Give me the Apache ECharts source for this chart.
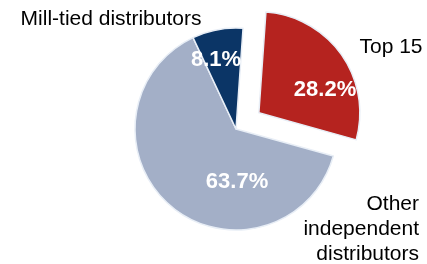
<!DOCTYPE html>
<html>
<head>
    <meta charset="utf-8" />
    <title>Distributor share</title>
    <script src="https://cdn.jsdelivr.net/npm/echarts@6/dist/echarts.min.js"></script>
    <style>
        html, body { margin: 0; padding: 0; background: #fff; }
        #main { width: 427px; height: 264px; }
    </style>
</head>
<body>
    <div id="main"></div>
    <script type="text/javascript">
        // data
        var categories = ['Top 15', 'Other\nindependent\ndistributors', 'Mill-tied distributors'];
        var shares = [28.2, 63.7, 8.1];
        var colors = ['#b5231f', '#a3afc7', '#0b3566'];

        // hand placed label anchors (like the original)
        var pctPos = [[325, 90], [237, 182], [216, 60]];
        var namePos = [[391, 47, 'center'], [419, 229, 'right'], [111, 19, 'center']];

        var center = [236, 129];
        var radius = 101;
        var startAngle = 86;
        var explode = 28;
        var font = '"Liberation Sans", Arial, sans-serif';
        var hidden = 'rgba(0,0,0,0)';
        var myChart = echarts.init(document.getElementById('main'));

        // the first slice is pulled out along its middle angle
        var total = shares.reduce(function (a, b) { return a + b; }, 0);
        var mid = (startAngle - shares[0] / total * 180) * Math.PI / 180;
        var outCenter = [center[0] + explode * Math.cos(mid), center[1] - explode * Math.sin(mid)];

        function slices(showIdx) {
            return categories.map(function (c, i) {
                var on = showIdx(i);
                return {
                    name: c,
                    value: shares[i],
                    itemStyle: on ? { color: colors[i] } : { color: hidden, borderWidth: 0 },
                    label: { show: on }
                };
            });
        }

        var pctLabel = {
            position: 'inside',
            color: '#fff',
            fontFamily: font,
            fontWeight: 'bold',
            fontSize: 22,
            overflow: 'none',
            formatter: function (p) { return p.value.toFixed(1) + '%'; }
        };
        function pctLayout(p) {
            var pos = pctPos[p.dataIndex];
            return { x: pos[0], y: pos[1], align: 'center', verticalAlign: 'middle' };
        }
        var border = { borderColor: '#e8eef6', borderWidth: 1.5 };

        myChart.setOption({
            animation: false,
            series: [
                {
                    type: 'pie',
                    center: center,
                    radius: radius,
                    startAngle: startAngle,
                    silent: true,
                    itemStyle: border,
                    label: pctLabel,
                    labelLayout: pctLayout,
                    data: slices(function (i) { return i !== 0; })
                },
                {
                    // exploded slice
                    type: 'pie',
                    center: outCenter,
                    radius: radius,
                    startAngle: startAngle,
                    silent: true,
                    itemStyle: border,
                    label: pctLabel,
                    labelLayout: pctLayout,
                    data: slices(function (i) { return i === 0; })
                },
                {
                    // invisible, only to carry the category names
                    type: 'pie',
                    center: center,
                    radius: radius,
                    startAngle: startAngle,
                    silent: true,
                    itemStyle: { color: hidden, borderWidth: 0 },
                    label: {
                        position: 'inside',
                        color: '#000',
                        fontFamily: font,
                        fontSize: 21,
                        lineHeight: 25,
                        overflow: 'none',
                        formatter: '{b}'
                    },
                    labelLayout: function (p) {
                        var pos = namePos[p.dataIndex];
                        return { x: pos[0], y: pos[1], align: pos[2], verticalAlign: 'middle' };
                    },
                    data: categories.map(function (c, i) { return { name: c, value: shares[i] }; })
                }
            ]
        });
    </script>
</body>
</html>
